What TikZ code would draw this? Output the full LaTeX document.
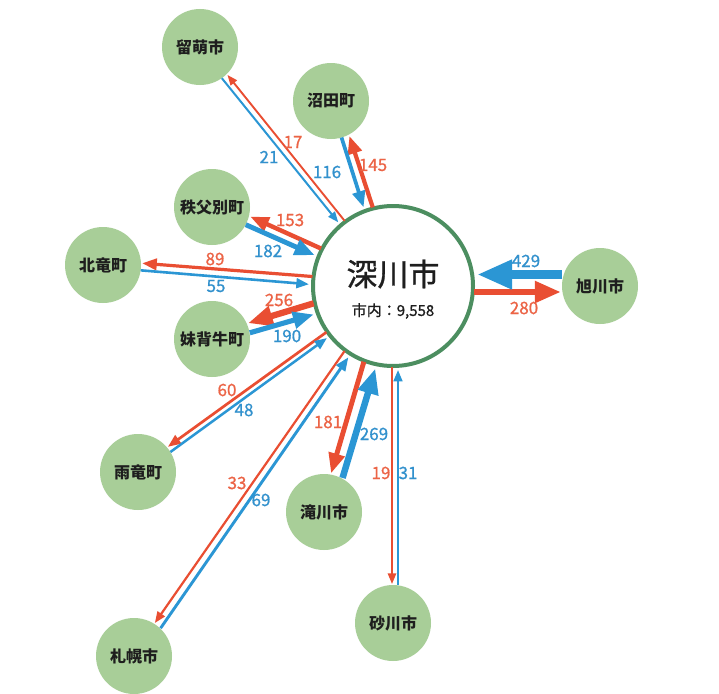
\documentclass[tikz,border=0pt]{standalone}
\usepackage{fontspec}
\setmainfont{Noto Sans CJK JP}
\newfontfamily\numfont{Noto Sans CJK JP}[FakeBold=0.9]
\usetikzlibrary{arrows.meta,calc}
\definecolor{redc}{RGB}{233,78,50}
\definecolor{bluec}{RGB}{43,150,212}
\definecolor{satc}{RGB}{168,206,152}
\definecolor{ringc}{RGB}{76,142,96}
\definecolor{txtc}{RGB}{30,30,30}
\definecolor{redt}{RGB}{236,100,70}
\definecolor{bluet}{RGB}{50,145,205}
\tikzset{
  redarr/.style={draw=redc, line cap=butt, shorten <=81pt, shorten >=39pt,
    -{Triangle[length=4pt 3.3, width=3pt 2.6]}},
  bluearr/.style={draw=bluec, line cap=butt, shorten <=84pt, shorten >=38pt,
    {Triangle[length=4pt 3.3, width=3pt 2.6]}-},
  sat/.style={circle, fill=satc, draw=none, inner sep=0pt, minimum size=76pt,
    text=txtc, font=\fontsize{16}{16}\selectfont\bfseries},
  hub/.style={circle, fill=white, draw=ringc, line width=4pt, inner sep=0pt, minimum size=160pt},
  rlab/.style={text=redt, inner sep=0pt, font=\numfont\fontsize{17}{17}\selectfont},
  blab/.style={text=bluet, inner sep=0pt, font=\numfont\fontsize{17}{17}\selectfont}
}
\newcommand\redflow[4]{\draw[redarr, line width=#2pt] ($(fk)!#3pt!90:(#1)$) -- ($(#1)!#4pt!-90:(fk)$);}
\newcommand\blueflow[4]{\draw[bluearr, line width=#2pt] ($(fk)!#3pt!90:(#1)$) -- ($(#1)!#4pt!-90:(fk)$);}
\begin{document}
\begin{tikzpicture}[x=1pt,y=-1pt]
\fill[white] (0,0) rectangle (719,693);
\useasboundingbox (0,0) rectangle (719,693);
% nodes
\node[hub] (fk) at (393,286) {};
\node[sat] (rumoi) at (200,47) {留萌市};
\node[sat] (numata) at (331,101) {沼田町};
\node[sat] (chippu) at (212,207) {秩父別町};
\node[sat] (hokuryu) at (103,265) {北竜町};
\node[sat] (moseushi) at (212,339) {妹背牛町};
\node[sat] (uryu) at (138,472) {雨竜町};
\node[sat] (sapporo) at (134,656) {札幌市};
\node[sat] (takikawa) at (324,512) {滝川市};
\node[sat] (sunagawa) at (393,623) {砂川市};
\node[sat] (asahikawa) at (600,286) {旭川市};
\node[text=txtc, inner sep=0pt, font=\numfont\fontsize{31}{31}\selectfont] (fkname) at (393,274) {深川市};
\node[text=txtc, inner sep=0pt, font=\numfont\fontsize{15}{15}\selectfont] (fkin) at (393,311) {市内：9,558};
% flows
\redflow{rumoi}{1.9}{-3.1}{-3.9}
\blueflow{rumoi}{2.0}{2.6}{2.6}
\redflow{numata}{4.2}{-5.2}{-6.6}
\blueflow{numata}{3.7}{4.3}{1}
\redflow{chippu}{4.4}{-4.6}{-6.9}
\blueflow{chippu}{4.9}{3.6}{2.5}
\redflow{hokuryu}{3.2}{-3.2}{-4.8}
\blueflow{hokuryu}{2.6}{5.2}{2.2}
\redflow{moseushi}{6.3}{-6.4}{-4.7}
\blueflow{moseushi}{5.1}{5.4}{4.5}
\redflow{uryu}{2.7}{-1.6}{-2.9}
\blueflow{uryu}{2.5}{3.2}{2.9}
\redflow{sapporo}{2.2}{-2.5}{-1.8}
\blueflow{sapporo}{2.9}{3.9}{6}
\redflow{takikawa}{4.9}{-6.6}{-4.1}
\blueflow{takikawa}{6.5}{6.7}{8}
\redflow{sunagawa}{2.0}{-1}{-1}
\blueflow{sunagawa}{2.2}{5}{5}
\redflow{asahikawa}{6.7}{-6}{-6}
\blueflow{asahikawa}{9.4}{11.5}{11.5}
% labels
\node[rlab] (l17) at (293,142) {17};
\node[blab] (l21) at (269,157) {21};
\node[blab] (l116) at (327,172) {116};
\node[rlab] (l145) at (373,165) {145};
\node[rlab] (l153) at (290,220) {153};
\node[blab] (l182) at (268,251) {182};
\node[rlab] (l89) at (215,259) {89};
\node[blab] (l55) at (216,286) {55};
\node[rlab] (l256) at (279,300) {256};
\node[blab] (l190) at (287,336) {190};
\node[rlab] (l60) at (227,390) {60};
\node[blab] (l48) at (244,410) {48};
\node[rlab] (l33) at (237,483) {33};
\node[blab] (l69) at (261,500) {69};
\node[rlab] (l181) at (328,422) {181};
\node[blab] (l269) at (374,434) {269};
\node[rlab] (l19) at (381,473) {19};
\node[blab] (l31) at (408,473) {31};
\node[blab] (l429) at (526,261) {429};
\node[rlab] (l280) at (524,308) {280};
\end{tikzpicture}
\end{document}
